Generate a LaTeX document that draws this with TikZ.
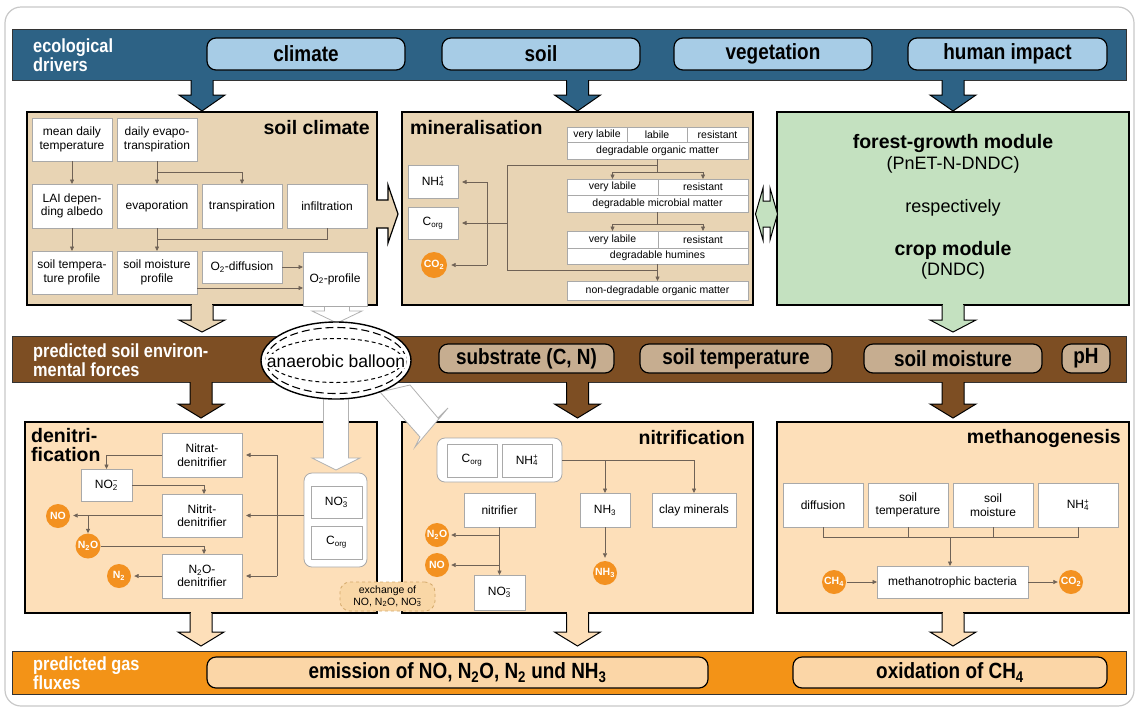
\documentclass[tikz,border=0pt]{standalone}
\usepackage{fontspec}
\setmainfont{Liberation Sans}
\newfontfamily\cond[FakeStretch=0.86]{Liberation Sans}
\usetikzlibrary{arrows.meta,shapes.geometric,calc}
\definecolor{framegray}{HTML}{C8C8C8}
\definecolor{bandblue}{HTML}{2D6285}
\definecolor{pillblue}{HTML}{A7CCE6}
\definecolor{tanc}{HTML}{E8D4B4}
\definecolor{mygreen}{HTML}{C4E1C0}
\definecolor{bandbrown}{HTML}{7D4E23}
\definecolor{pillbrown}{HTML}{C6AD90}
\definecolor{peach}{HTML}{FDDFB9}
\definecolor{bandorange}{HTML}{F39317}
\definecolor{pillorange}{HTML}{FBD6A7}
\definecolor{circ}{HTML}{F39120}
\definecolor{connc}{HTML}{6F6256}
\definecolor{boxgray}{HTML}{A9A9A9}
\definecolor{exdash}{HTML}{D4A96A}
\definecolor{exfill}{HTML}{F9D7A6}
\newcommand\fs[2]{\fontsize{#1}{#2}\selectfont}
\newcommand\ssp[2]{\rlap{\textsubscript{#1}}\textsuperscript{#2}}
\newcommand\dnarrow[5]{%
  \filldraw[fill=#5, draw=black, line width=1pt, line join=miter] ({#1-11},#2) -- ({#1-11},#3) -- ({#1-23},#3) -- (#1,#4) -- ({#1+23},#3) -- ({#1+11},#3) -- ({#1+11},#2);
  \fill[#5] ({#1-10.4},{#2-1.5}) rectangle ({#1+10.4},{#2+1});
}
\tikzset{
 ibox/.style={draw=boxgray, fill=white, line width=0.8pt, inner sep=1pt, align=center, font=\fs{12}{13.5}, outer sep=0pt},
 cell/.style={ibox, inner sep=0pt, font=\fs{10.5}{12}},
 gas/.style={circle, fill=circ, inner sep=0pt, minimum size=24pt, text=white, font=\bfseries\fs{10.5}{11}},
 holder/.style={draw=boxgray, fill=white, rounded corners=8pt, line width=0.8pt, inner sep=0pt},
 conn/.style={draw=connc, line width=0.7pt},
 arr/.style={conn, -{Triangle[length=4.5pt,width=4pt]}},
 pill/.style={draw=black, line width=1.2pt, rounded corners=9pt, font=\cond\bfseries\fs{22}{22}, inner sep=0pt},
 ttl/.style={font=\bfseries\fs{19.5}{19}, inner sep=0pt},
 bandlbl/.style={font=\cond\bfseries\fs{19}{18.5}, text=white, align=left, inner sep=0pt, anchor=west},
 bigbox/.style={draw=black, line width=1.6pt, inner sep=0pt},
 warrow/.style={fill=white, draw=gray!60, line width=0.8pt, line join=miter},
}
\begin{document}
\begin{tikzpicture}[x=1pt,y=-1pt]
\useasboundingbox (0,0) rectangle (1139,710);
\draw[draw=framegray, line width=1.2pt, rounded corners=16pt] (5,7) rectangle (1134,706);
% bands
\filldraw[fill=bandblue, draw=black!80, line width=1pt] (12,29) rectangle (1126,80);
\node[bandlbl] (lbl1) at (33,55) {ecological\\drivers};
\filldraw[fill=bandbrown, draw=black!80, line width=1pt] (12,336) rectangle (1126,382);
\node[bandlbl] (lbl2) at (33,360) {predicted soil environ-\\mental forces};
\filldraw[fill=bandorange, draw=black!80, line width=1pt] (12,651) rectangle (1126,694);
\node[bandlbl] (lbl3) at (33,673) {predicted gas\\fluxes};
% big boxes
\node[bigbox, fill=tanc, minimum width=350, minimum height=193] (soilclim) at (202,208.5) {};
\node[bigbox, fill=tanc, minimum width=351, minimum height=193] (mineral) at (577.5,208.5) {};
\node[bigbox, fill=mygreen, minimum width=352, minimum height=193] (forest) at (953,208.5) {};
\node[bigbox, fill=peach, minimum width=352, minimum height=191] (denit) at (201,517.5) {};
\node[bigbox, fill=peach, minimum width=351, minimum height=191] (nitr) at (577.5,517.5) {};
\node[bigbox, fill=peach, minimum width=352, minimum height=191] (meth) at (953,517.5) {};
% big arrows
\dnarrow{202}{80}{95}{111}{bandblue}
\dnarrow{577.5}{80}{95}{111}{bandblue}
\dnarrow{953}{80}{95}{111}{bandblue}
\dnarrow{202}{305}{320}{332}{tanc}
\dnarrow{953}{305}{320}{332}{mygreen}
\dnarrow{201}{382}{404}{418}{bandbrown}
\dnarrow{577.5}{382}{404}{418}{bandbrown}
\dnarrow{953}{382}{404}{418}{bandbrown}
\dnarrow{201}{613}{632}{646}{peach}
\dnarrow{577.5}{613}{632}{646}{peach}
\dnarrow{953}{613}{632}{646}{peach}
\filldraw[fill=tanc, draw=black, line width=1.2pt, line join=miter] (376,200) -- (388,200) -- (388,185) -- (398,214) -- (388,243) -- (388,228) -- (376,228);
\fill[tanc] (375,201) rectangle (379,227);
\filldraw[fill=mygreen, draw=black, line width=1pt] (755.5,214) -- (763,188) -- (763,201) -- (770,201) -- (770,188) -- (777.5,214) -- (770,240) -- (770,227) -- (763,227) -- (763,240) -- cycle;
% white arrows
\filldraw[warrow] (324.5,300) -- (324.5,311) -- (312,311) -- (337,323) -- (362,311) -- (349.5,311) -- (349.5,300);
\filldraw[warrow] (323.5,390) -- (323.5,458) -- (312,458) -- (336,470) -- (360,458) -- (348.5,458) -- (348.5,390);
\filldraw[warrow] (380,392) -- (410,385) -- (438,418) -- (448,408) -- (415,447) -- (420,437) -- cycle;
% balloon
\node[ellipse, draw=black, line width=1.4pt, fill=white, minimum width=150, minimum height=77, inner sep=0pt] (balloon) at (336,360.5) {};
\draw[line width=1.1pt, dash pattern=on 8pt off 4pt] (balloon.center) ellipse [x radius=70, y radius=33];
\draw[line width=1pt, dash pattern=on 4pt off 3pt] (balloon.center) ellipse [x radius=67, y radius=22];
\node[font=\fs{17.5}{18}, fill=white, inner sep=0.5pt] (balloontxt) at (336,361) {anaerobic balloon};
% pills
\node[pill, fill=pillblue, minimum width=198, minimum height=32] (climate) at (306,54) {climate};
\node[pill, fill=pillblue, minimum width=198, minimum height=32] (soil) at (541,54) {soil};
\node[pill, fill=pillblue, minimum width=198, minimum height=32] (veg) at (773,54) {vegetation};
\node[pill, fill=pillblue, minimum width=199, minimum height=32] (human) at (1007.5,54) {human impact};
\node[pill, fill=pillbrown, minimum width=175, minimum height=29] (subst) at (526.5,358.5) {substrate (C, N)};
\node[pill, fill=pillbrown, minimum width=192, minimum height=29] (stemperature) at (736,358.5) {soil temperature};
\node[pill, fill=pillbrown, minimum width=178, minimum height=29] (smoisture) at (953,358.5) {soil moisture};
\node[pill, fill=pillbrown, minimum width=48, minimum height=29] (ph) at (1086,358.5) {pH};
\node[pill, fill=pillorange, minimum width=501, minimum height=31] (emis) at (457.5,672.5) {emission of NO, N\textsubscript{2}O, N\textsubscript{2} und NH\textsubscript{3}};
\node[pill, fill=pillorange, minimum width=314, minimum height=31] (oxid) at (950,672.5) {oxidation of CH\textsubscript{4}};
% soil climate
\node[ttl, anchor=east] (tsc) at (370,128) {soil climate};
\node[ibox, minimum width=80, minimum height=43] (mdt) at (72,139.5) {mean daily\\temperature};
\node[ibox, minimum width=80, minimum height=43] (det) at (157,139.5) {daily evapo-\\transpiration};
\node[ibox, minimum width=80, minimum height=44] (lai) at (72,206) {LAI depen-\\ding albedo};
\node[ibox, minimum width=80, minimum height=44] (evap) at (157,206) {evaporation};
\node[ibox, minimum width=80, minimum height=44] (trans) at (242,206) {transpiration};
\node[ibox, minimum width=80, minimum height=44] (infil) at (327,206) {infiltration};
\node[ibox, minimum width=80, minimum height=43] (stp) at (72,272.5) {soil tempera-\\ture profile};
\node[ibox, minimum width=80, minimum height=43] (smp) at (157,272.5) {soil moisture\\profile};
\node[ibox, minimum width=80, minimum height=32] (o2d) at (242,267) {O\textsubscript{2}-diffusion};
\node[ibox, minimum width=64, minimum height=54] (o2p) at (335,279) {O\textsubscript{2}-profile};
\draw[arr] (mdt) -- (lai);
\draw[arr] (lai) -- (stp);
\draw[arr] (det) -- (evap);
\draw[arr] (det.south) ++(0,11) -| (trans.north);
\draw[arr] (evap) -- (smp);
\draw[conn] (infil.south) |- ($(evap.south)!0.5!(smp.north)$);
\draw[arr] (o2d.east) -- (o2d.east -| o2p.west);
\draw[arr] ([yshift=6pt]smp.south east) -- ([yshift=6pt]smp.south east -| o2p.west);
% mineralisation
\node[ttl, anchor=west] (tmin) at (410,128) {mineralisation};
\node[cell, minimum width=60, minimum height=15] (t1a) at (597,134.5) {very labile};
\node[cell, minimum width=60, minimum height=15] (t1b) at (657,134.5) {labile};
\node[cell, minimum width=61, minimum height=15] (t1c) at (717.5,134.5) {resistant};
\node[cell, minimum width=181, minimum height=17] (t1d) at (657.5,150.5) {degradable organic matter};
\node[cell, minimum width=91, minimum height=16] (t2a) at (612.5,187) {very labile};
\node[cell, minimum width=90, minimum height=16] (t2b) at (703,187) {resistant};
\node[cell, minimum width=181, minimum height=17] (t2d) at (657.5,203.5) {degradable microbial matter};
\node[cell, minimum width=91, minimum height=17] (t3a) at (612.5,239.5) {very labile};
\node[cell, minimum width=90, minimum height=17] (t3b) at (703,239.5) {resistant};
\node[cell, minimum width=181, minimum height=16] (t3d) at (657.5,256) {degradable humines};
\node[cell, minimum width=181, minimum height=19] (nondeg) at (657.5,290.5) {non-degradable organic matter};
\node[ibox, minimum width=50, minimum height=33] (nh4) at (433,181.5) {NH\ssp{4}{+}};
\node[ibox, minimum width=50, minimum height=32] (corg) at (433,223) {C\textsubscript{org}};
\node[gas, minimum size=26pt] (co2) at (434,265) {CO\textsubscript{2}};
\coordinate (mtop) at (507,165);
\coordinate (mbot) at (507,270);
\coordinate (mi1) at (487,182);
\coordinate (mi2) at (487,265);
\draw[conn] (t1d.south) -- ++(0,13) coordinate (b1);
\draw[arr] (b1) -| (t2a.north);
\draw[arr] (b1) -| (t2b.north);
\draw[conn] (t2d.south) -- ++(0,12) coordinate (b2);
\draw[arr] (b2) -| (t3a.north);
\draw[arr] (b2) -| (t3b.north);
\draw[arr] (t3d.south) -- (nondeg.north);
\draw[conn] (mtop) -- (mtop -| t1d.south);
\draw[conn] (mbot) -- (mbot -| t3d.south);
\draw[conn] (mtop) -- (mbot);
\draw[arr, shorten >=4pt] (mtop |- corg.east) -- (corg.east);
\draw[conn] (mi1) -- (mi2);
\draw[arr, shorten >=4pt] (mi1) -- (mi1 -| nh4.east);
\draw[arr, shorten >=4pt] (mi2) -- (mi2 -| co2.east);
% forest
\node[font=\bfseries\fs{19.5}{20}] (fg) at (953,143) {forest-growth module};
\node[font=\fs{18}{19}] (pnet) at (953,165) {(PnET-N-DNDC)};
\node[font=\fs{18}{19}] (resp) at (953,208) {respectively};
\node[font=\bfseries\fs{19.5}{20}] (crop) at (953,250) {crop module};
\node[font=\fs{18}{19}] (dndc) at (953,271) {(DNDC)};
% denitrification
\node[ttl, anchor=north west, align=left] (tden) at (31,428) {denitri-\\fication};
\node[ibox, minimum width=80, minimum height=44] (nd) at (202,455) {Nitrat-\\denitrifier};
\node[ibox, minimum width=51, minimum height=32] (no2) at (106.5,485) {NO\ssp{2}{−}};
\node[ibox, minimum width=80, minimum height=43] (nid) at (202,515.5) {Nitrit-\\denitrifier};
\node[ibox, minimum width=80, minimum height=44] (n2od) at (202,576) {N\textsubscript{2}O-\\denitrifier};
\node[gas] (no) at (58,516) {NO};
\node[gas, minimum size=25pt] (n2o) at (88,546) {N\textsubscript{2}O};
\node[gas] (n2) at (119,576) {N\textsubscript{2}};
\node[holder, minimum width=63, minimum height=94] (hold1) at (335.5,520) {};
\node[ibox, minimum width=51, minimum height=32] (no3) at (336.5,502) {NO\ssp{3}{−}};
\node[ibox, minimum width=51, minimum height=33] (corgd) at (336.5,542.5) {C\textsubscript{org}};
\coordinate (dv1) at (277,455);
\coordinate (dv2) at (277,576);
\draw[arr] (nd.west) -| (no2.north);
\draw[arr] (no2.east) -| ([xshift=2pt]nid.north);
\draw[arr, shorten >=3pt] (nid.west) -- (nid.west -| no.east);
\draw[arr] (n2o.north |- nid.west) -- (n2o.north);
\draw[arr] (n2o.east) -| ([xshift=2pt]n2od.north);
\draw[arr, shorten >=3pt] (n2od.west) -- (n2od.west -| n2.east);
\draw[arr, shorten >=4pt] (hold1.west |- nid.east) -- (nid.east);
\draw[conn] (dv1) -- (dv2);
\draw[arr, shorten >=4pt] (dv1) -- (dv1 -| nd.east);
\draw[arr, shorten >=4pt] (dv2) -- (dv2 -| n2od.east);
% nitrification
\node[ttl, anchor=east] (tnit) at (745,438) {nitrification};
\node[holder, minimum width=125, minimum height=44] (holdn) at (499.5,460) {};
\node[ibox, minimum width=50, minimum height=33] (corgn) at (472,460.5) {C\textsubscript{org}};
\node[ibox, minimum width=50, minimum height=33] (nh4n) at (527,460.5) {NH\ssp{4}{+}};
\node[ibox, minimum width=71, minimum height=34] (nitrifier) at (499.5,510) {nitrifier};
\node[ibox, minimum width=50, minimum height=34] (nh3) at (605,510) {NH\textsubscript{3}};
\node[ibox, minimum width=84, minimum height=34] (clay) at (694,510) {clay minerals};
\node[gas] (nh3g) at (605,573) {NH\textsubscript{3}};
\node[gas] (n2on) at (437,535) {N\textsubscript{2}O};
\node[gas] (non) at (437,565) {NO};
\node[ibox, minimum width=51, minimum height=35] (no3n) at (499.5,592.5) {NO\ssp{3}{−}};
\draw[conn] (holdn.east) -- (holdn.east -| clay.north);
\draw[arr] (holdn.east -| nh3.north) -- (nh3.north);
\draw[arr] (holdn.east -| clay.north) -- (clay.north);
\draw[arr, shorten >=3pt] (nh3.south) -- (nh3g.north);
\draw[arr] (nitrifier.south) -- (no3n.north);
\draw[arr, shorten >=2pt] (nitrifier.south |- n2on.east) -- (n2on.east);
\draw[arr, shorten >=2pt] (nitrifier.south |- non.east) -- (non.east);
% methanogenesis
\node[ttl, anchor=east] (tmeth) at (1121,438) {methanogenesis};
\node[ibox, minimum width=80, minimum height=44] (diff) at (823,505) {diffusion};
\node[ibox, minimum width=80, minimum height=44] (stemp) at (908,505) {soil\\temperature};
\node[ibox, minimum width=80, minimum height=44] (smoist) at (993,505) {soil\\moisture};
\node[ibox, minimum width=80, minimum height=44] (nh4m) at (1078,505) {NH\ssp{4}{+}};
\node[ibox, minimum width=151, minimum height=32] (bact) at (952.5,582) {methanotrophic bacteria};
\node[gas] (ch4) at (834,582) {CH\textsubscript{4}};
\node[gas] (co2m) at (1071,582) {CO\textsubscript{2}};
\coordinate (mj) at (950,537);
\draw[conn] (diff.south) -- (diff.south |- mj) -- (nh4m.south |- mj) -- (nh4m.south);
\draw[conn] (stemp.south) -- (stemp.south |- mj);
\draw[conn] (smoist.south) -- (smoist.south |- mj);
\draw[arr] (mj) -- (mj |- bact.north);
\draw[arr, shorten <=1pt] (ch4.east) -- (bact.west);
\draw[arr, shorten >=1pt] (bact.east) -- (co2m.west);
% exchange
\node[draw=exdash, dashed, line width=0.8pt, fill=exfill, rounded corners=10pt, minimum width=95, minimum height=29, font=\fs{10.5}{11.5}, align=center, inner sep=0pt] (exch) at (387.5,596.5) {exchange of\\NO, N\textsubscript{2}O, NO\ssp{3}{−}};
\end{tikzpicture}
\end{document}
